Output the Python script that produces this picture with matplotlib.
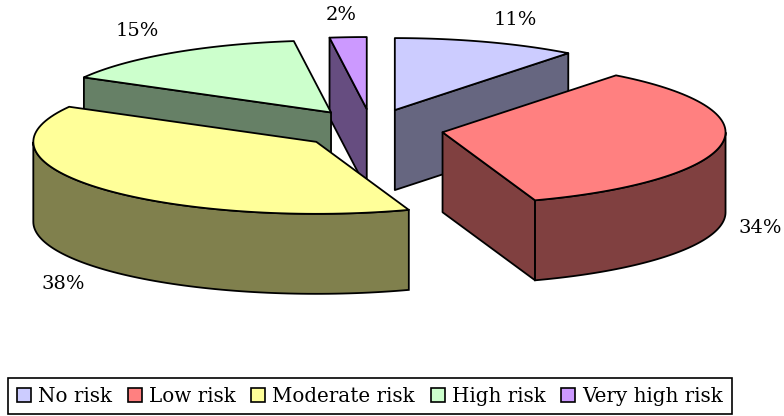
import numpy as np
import matplotlib
matplotlib.use('Agg')
import matplotlib.pyplot as plt
from matplotlib.patches import Polygon, Patch

categories = ['No risk', 'Low risk', 'Moderate risk', 'High risk', 'Very high risk']
shares = [10.5, 34.2, 38.4, 14.8, 2.1]
percent_labels = ['11%', '34%', '38%', '15%', '2%']
colors = ['#CCCCFF', '#FF8080', '#FFFF99', '#CCFFCC', '#CC99FF']
side_colors = ['#666680', '#804040', '#80804D', '#668066', '#664D80']

# pie geometry in pixels
cx, cy = 371.5, 129
rx, ry = 283, 72
depth = 80
explode_x, explode_y = 72, 20
label_pos = [(515, 20), (760, 228), (63, 284), (137, 31), (341, 15)]
draw_order = [4, 0, 3, 2, 1]
font = 'DejaVu Serif'
lw = 1.3

fig = plt.figure(figsize=(7.84, 4.16), dpi=100)
ax = fig.add_axes([0, 0, 1, 1])
ax.set_xlim(0, 784)
ax.set_ylim(416, 0)
ax.axis('off')


def rim(ox, oy, t):
    t = np.radians(t)
    return ox + rx * np.sin(t), oy - ry * np.cos(t)


def radial_face(ox, oy, t, color):
    x, y = rim(ox, oy, t)
    pts = [(ox, oy), (x, y), (x, y + depth), (ox, oy + depth)]
    ax.add_patch(Polygon(pts, closed=True, fc=color, ec='black', lw=lw, joinstyle='round'))


edges = np.cumsum([0] + shares) / sum(shares) * 360

for i in draw_order:
    t0, t1 = edges[i], edges[i + 1]
    mid = np.radians((t0 + t1) / 2)
    ox = cx + explode_x * np.sin(mid)
    oy = cy - explode_y * np.cos(mid)

    # back to front: radial walls, then the outer wall, then the top
    if np.sin(np.radians(t0)) < 0:
        radial_face(ox, oy, t0, side_colors[i])
    if np.sin(np.radians(t1)) > 0.01:
        radial_face(ox, oy, t1, side_colors[i])

    a0, a1 = max(t0, 90), min(t1, 270)
    if a1 > a0:
        t = np.linspace(a0, a1, 80)
        x, y = rim(ox, oy, t)
        pts = np.r_[np.c_[x, y], np.c_[x[::-1], y[::-1] + depth]]
        ax.add_patch(Polygon(pts, closed=True, fc=side_colors[i], ec='black', lw=lw))

    t = np.linspace(t0, t1, 80)
    x, y = rim(ox, oy, t)
    pts = np.r_[[(ox, oy)], np.c_[x, y]]
    ax.add_patch(Polygon(pts, closed=True, fc=colors[i], ec='black', lw=lw, joinstyle='round'))

for label, (x, y) in zip(percent_labels, label_pos):
    ax.text(x, y, label, family=font, fontsize=14, ha='center', va='center', color='black')

handles = [Patch(fc=c, ec='black', lw=1.2, label=n) for c, n in zip(colors, categories)]
leg = ax.legend(handles=handles, ncols=5, loc='center', bbox_to_anchor=(8, 378, 724, 36),
                bbox_transform=ax.transData, mode='expand', frameon=True, fancybox=False,
                edgecolor='black', framealpha=1, prop={'family': font, 'size': 14.3},
                handlelength=0.7, handleheight=0.7, handletextpad=0.35, columnspacing=0.5,
                borderpad=0.45, borderaxespad=0)
leg.get_frame().set_linewidth(1.2)

fig.savefig('out.png', dpi=100)
